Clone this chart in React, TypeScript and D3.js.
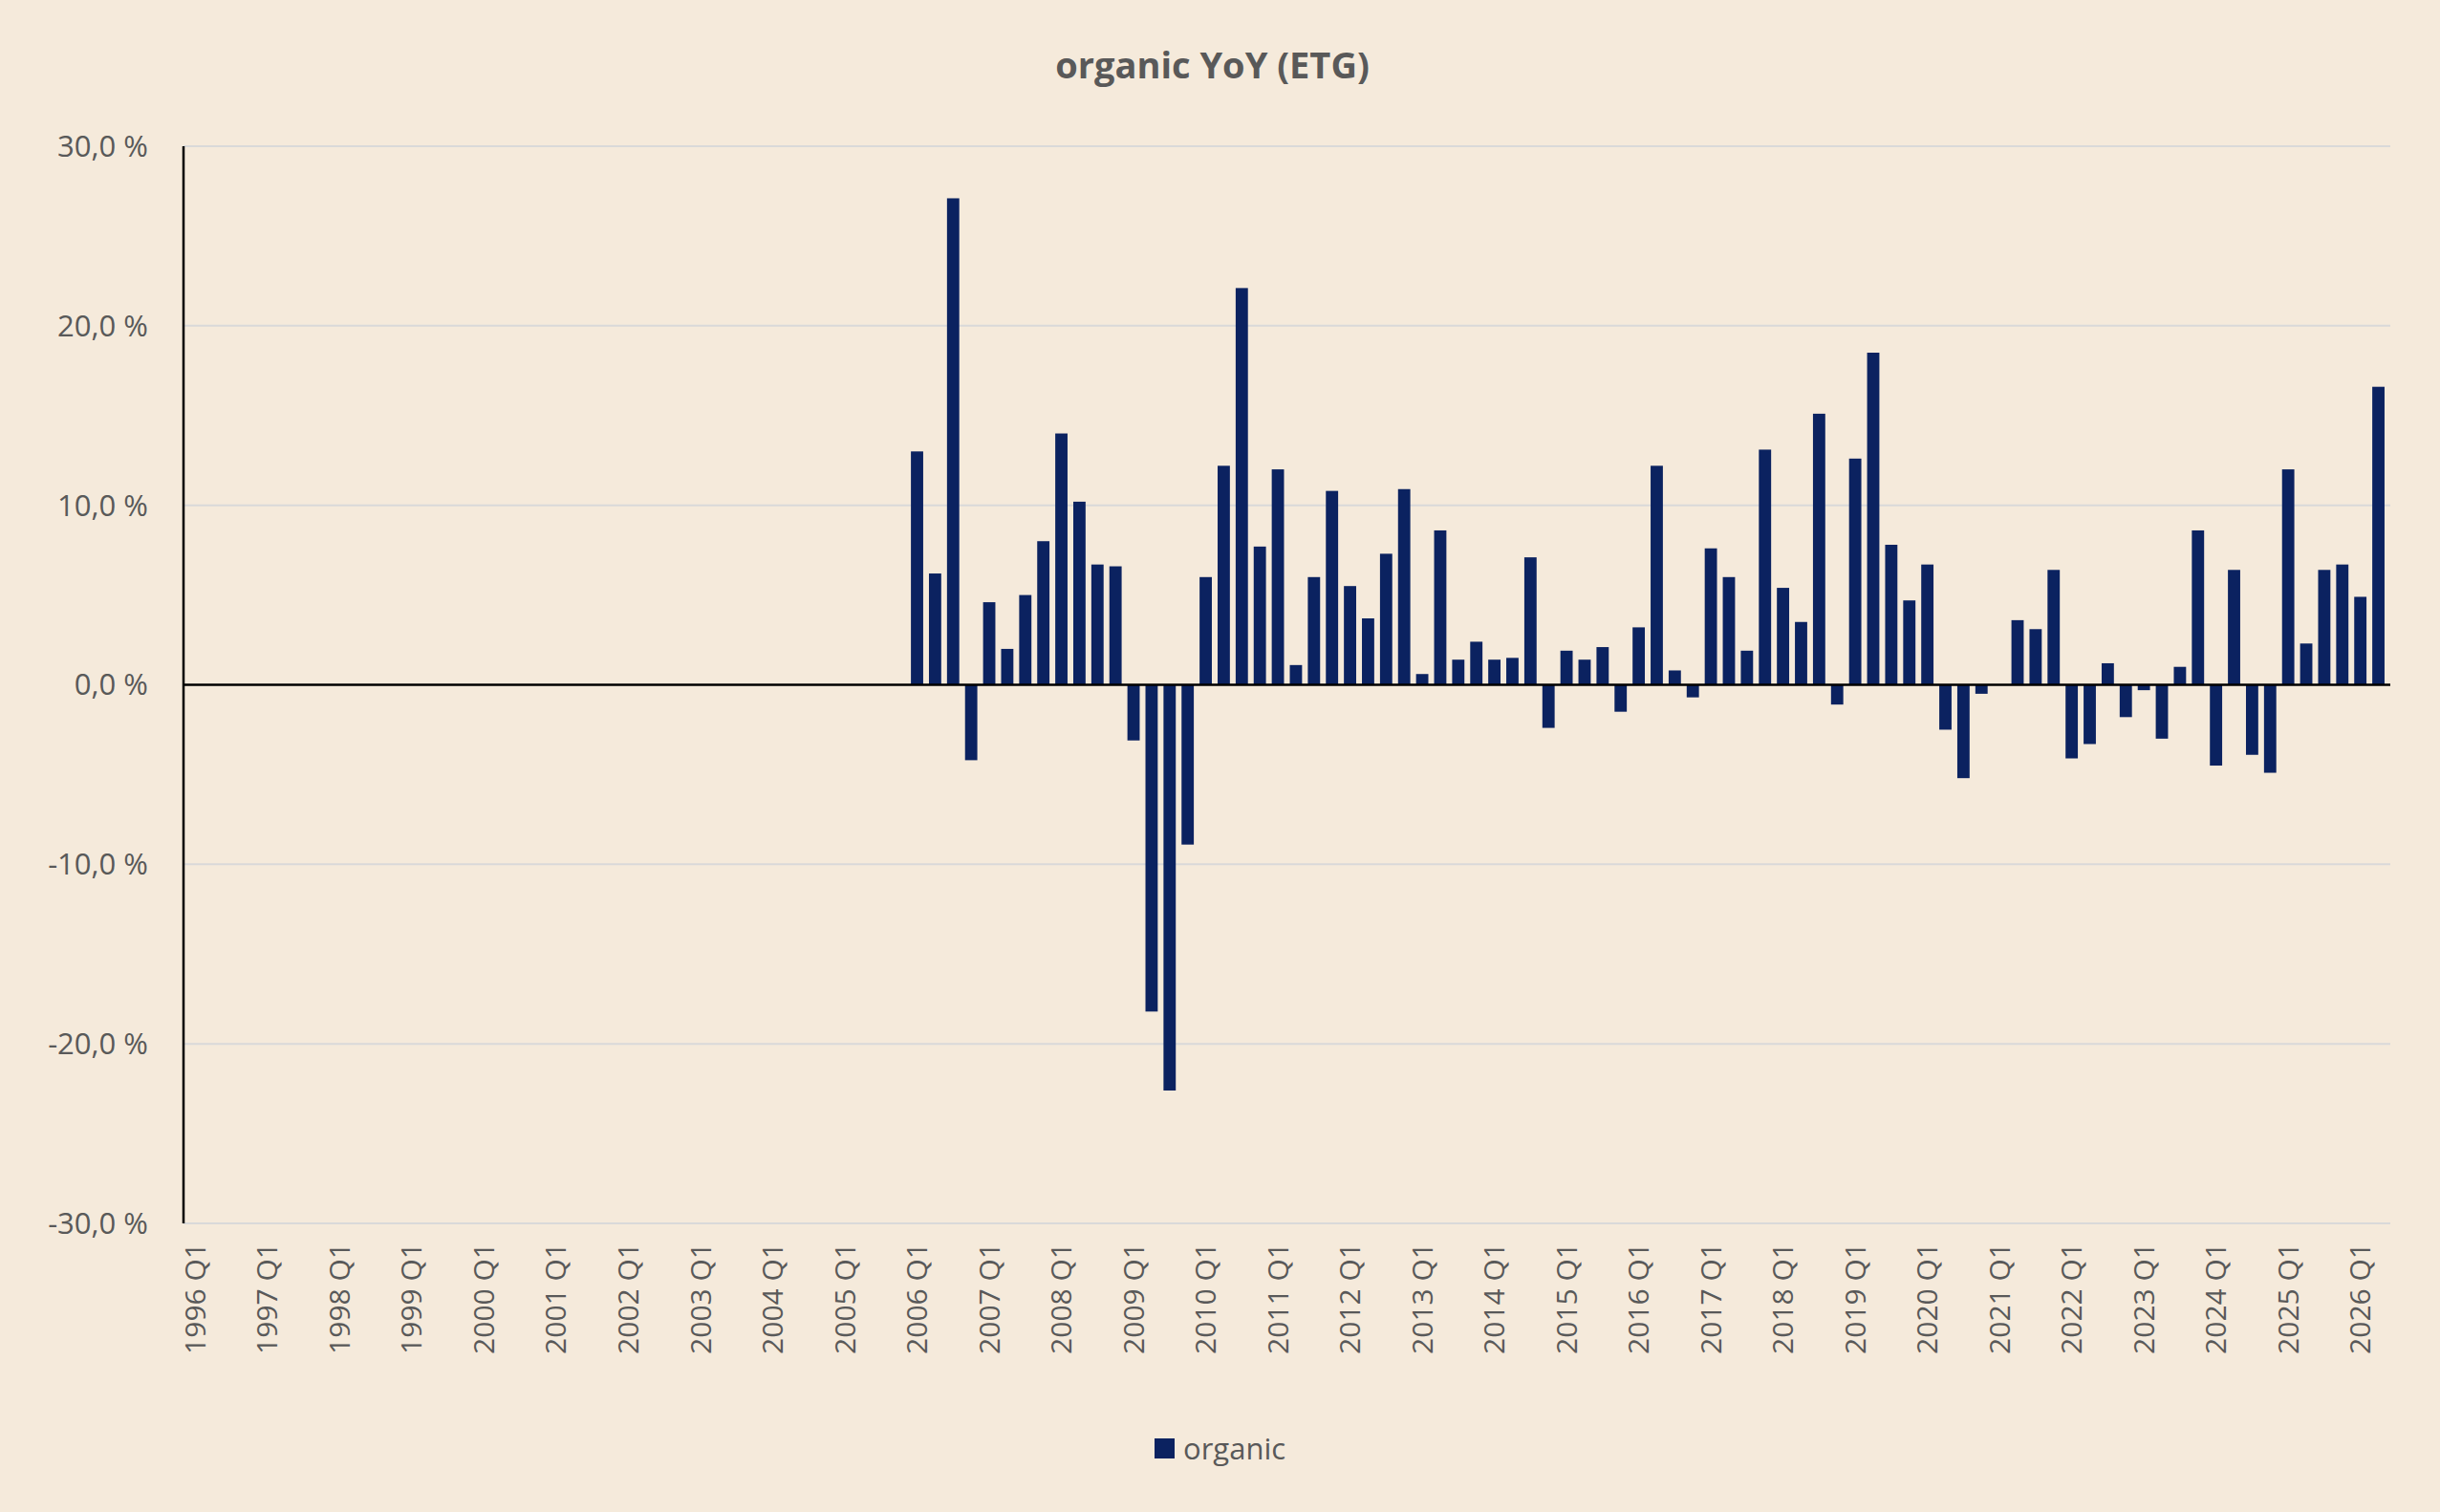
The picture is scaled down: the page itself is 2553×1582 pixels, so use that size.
import { useEffect, useRef } from 'react';
import * as d3 from 'd3';

const years = d3.range(1996, 2027);
const quarters = ['Q1', 'Q2', 'Q3', 'Q4'];
const categories: string[] = [];
years.forEach(y => quarters.forEach(q => categories.push(`${y} ${q}`)));
categories.splice(122);

// organic YoY from 2006 Q1 to 2026 Q2 (percent)
const organicValues = [
  13.0, 6.2, 27.1, -4.2,
  4.6, 2.0, 5.0, 8.0,
  14.0, 10.2, 6.7, 6.6,
  -3.1, -18.2, -22.6, -8.9,
  6.0, 12.2, 22.1, 7.7,
  12.0, 1.1, 6.0, 10.8,
  5.5, 3.7, 7.3, 10.9,
  0.6, 8.6, 1.4, 2.4,
  1.4, 1.5, 7.1, -2.4,
  1.9, 1.4, 2.1, -1.5,
  3.2, 12.2, 0.8, -0.7,
  7.6, 6.0, 1.9, 13.1,
  5.4, 3.5, 15.1, -1.1,
  12.6, 18.5, 7.8, 4.7,
  6.7, -2.5, -5.2, -0.5,
  0.0, 3.6, 3.1, 6.4,
  -4.1, -3.3, 1.2, -1.8,
  -0.3, -3.0, 1.0, 8.6,
  -4.5, 6.4, -3.9, -4.9,
  12.0, 2.3, 6.4, 6.7,
  4.9, 16.6,
];
const firstIndex = categories.indexOf('2006 Q1');
const yTicks = [-30, -20, -10, 0, 10, 20, 30];

export default function App() {
  const ref = useRef<SVGSVGElement>(null);

  useEffect(() => {
    const W = 2553, H = 1582;
    const svg = d3.select(ref.current!);
    svg.selectAll('*').remove();
    const font = 'Open Sans, sans-serif';
    const m = { left: 192, right: 2501, top: 153, bottom: 1280 };

    svg.append('rect').attr('width', W).attr('height', H).attr('fill', '#F5EADB');

    const x = d3.scaleBand().domain(categories).range([m.left, m.right]).padding(0.32);
    const y = d3.scaleLinear().domain([-30, 30]).range([m.bottom, m.top]);

    svg.append('g').selectAll('line').data(yTicks.filter(t => t !== 0)).join('line')
      .attr('x1', m.left).attr('x2', m.right)
      .attr('y1', d => y(d)).attr('y2', d => y(d))
      .attr('stroke', '#D9D9D9').attr('stroke-width', 2);

    svg.append('g').selectAll('text').data(yTicks).join('text')
      .attr('x', 155).attr('y', d => y(d)).attr('dy', '0.35em')
      .attr('text-anchor', 'end').attr('font-family', font).attr('font-size', 31)
      .attr('fill', '#595959').text(d => `${d.toFixed(1).replace('.', ',')} %`);

    const data = organicValues.map((v, i) => ({ c: categories[firstIndex + i], v }));
    svg.append('g').selectAll('rect').data(data).join('rect')
      .attr('x', d => x(d.c)!).attr('width', x.bandwidth())
      .attr('y', d => y(Math.max(0, d.v)))
      .attr('height', d => Math.abs(y(d.v) - y(0)))
      .attr('fill', '#0B2260');

    svg.append('line').attr('x1', m.left).attr('x2', m.right)
      .attr('y1', y(0)).attr('y2', y(0)).attr('stroke', '#000').attr('stroke-width', 2.5);
    svg.append('line').attr('x1', m.left).attr('x2', m.left)
      .attr('y1', m.top).attr('y2', m.bottom).attr('stroke', '#000').attr('stroke-width', 2.5);

    svg.append('g').selectAll('text').data(categories.filter(c => c.endsWith('Q1'))).join('text')
      .attr('transform', d => `translate(${x(d)! + x.bandwidth() / 2},1300) rotate(-90)`)
      .attr('dy', '0.35em').attr('text-anchor', 'end')
      .attr('font-family', font).attr('font-size', 30).attr('fill', '#595959').text(d => d);

    svg.append('text').attr('x', W / 2 - 8).attr('y', 82).attr('text-anchor', 'middle')
      .attr('font-family', font).attr('font-weight', 'bold').attr('font-size', 38)
      .attr('fill', '#595959').text('organic YoY (ETG)');

    svg.append('rect').attr('x', 1208).attr('y', 1505).attr('width', 21).attr('height', 21).attr('fill', '#0B2260');
    svg.append('text').attr('x', 1238).attr('y', 1516).attr('dy', '0.35em')
      .attr('font-family', font).attr('font-size', 31).attr('fill', '#595959').text('organic');
  }, []);

  return <svg ref={ref} width={2553} height={1582} style={{ position: 'absolute', left: 0, top: 0 }} />;
}
